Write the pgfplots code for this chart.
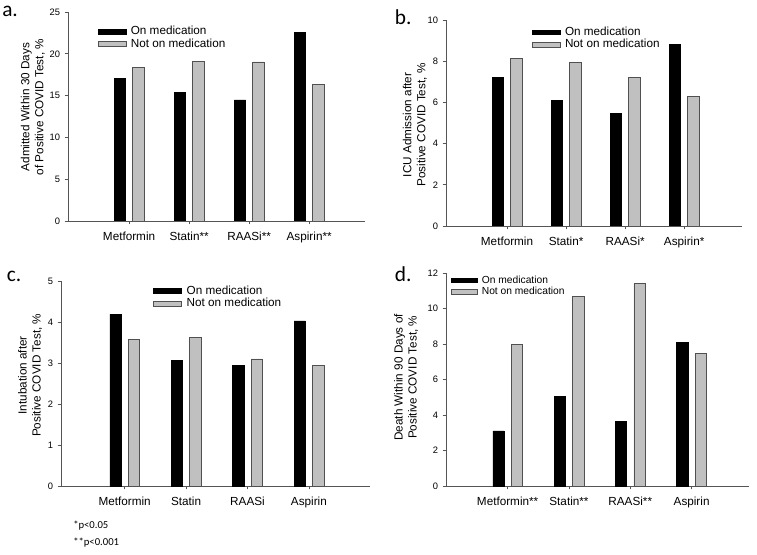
\documentclass[border=0pt]{standalone}
\usepackage{pgfplots}
\pgfplotsset{compat=1.18}
\usepackage{fontspec}
\setmainfont{Liberation Sans}
\newfontfamily\calib{Carlito}
\definecolor{bargray}{RGB}{192,192,192}
\definecolor{edgegray}{RGB}{80,80,80}
\definecolor{axgray}{RGB}{85,85,85}
\pgfplotsset{
 panel/.style={
  scale only axis, anchor=south west,
  axis lines=left, axis line style={-, axgray, line width=0.6pt},
  ybar, bar width=8.5pt,
  ymin=0, xtick={1,2,3,4},
  tick align=outside, major tick length=2.5pt,
  tick style={axgray, line width=0.6pt},
  yticklabel style={font=\fontsize{7}{8}\selectfont},
  xticklabel style={font=\fontsize{8.8}{10}\selectfont, yshift=-2pt},
  ylabel style={font=\fontsize{8.8}{10.5}\selectfont, align=center, anchor=center},
  /pgf/number format/assume math mode=true,
  legend style={draw=none, fill=none, font=\fontsize{8.8}{10.5}\selectfont, anchor=north west, row sep=-1.5pt, column sep=2pt, legend cell align=left, nodes={inner sep=1.5pt}},
  legend image code/.code={\draw[##1, line width=0.5pt] (0pt,-1.8pt) rectangle (21pt,1.8pt);},
 },
 onmed/.style={fill=black, draw=black, bar shift=-6.9pt},
 notmed/.style={fill=bargray, draw=edgegray, bar shift=6.9pt},
}
\begin{document}
\begin{tikzpicture}
\path[use as bounding box] (0,0) rectangle (567.75pt,415.5pt);
% panel a
\begin{axis}[panel, at={(51pt,249.75pt)}, width=222.75pt, height=156.75pt,
  xmin=-0.017, xmax=4.93, ymax=25, ytick={0,5,10,15,20,25},
  xticklabels={Metformin, Statin**, RAASi**, Aspirin**},
  ylabel={Admitted Within 30 Days\\of Positive COVID Test, \%},
  ylabel style={at={(axis description cs:-0.118,0.545)}},
  legend style={at={(axis description cs:0.085,0.955)}}]
\addplot[onmed] coordinates {(1,17.04) (2,15.4) (3,14.5) (4,22.6)};
\addplot[notmed] coordinates {(1,18.36) (2,19.1) (3,19.03) (4,16.3)};
\legend{On medication, Not on medication}
\end{axis}
% panel b
\begin{axis}[panel, at={(334.5pt,246pt)}, width=222pt, height=154.5pt,
  xmin=-0.034, xmax=4.98, ymax=10, ytick={0,2,4,6,8,10},
  xticklabels={Metformin, Statin*, RAASi*, Aspirin*},
  ylabel={ICU Admission after\\Positive COVID Test, \%},
  ylabel style={at={(axis description cs:-0.105,0.49)}},
  legend style={at={(axis description cs:0.275,0.99)}}]
\addplot[onmed] coordinates {(1,7.2) (2,6.09) (3,5.46) (4,8.82)};
\addplot[notmed] coordinates {(1,8.12) (2,7.96) (3,7.21) (4,6.29)};
\legend{On medication, Not on medication}
\end{axis}
% panel c
\begin{axis}[panel, at={(45.75pt,51pt)}, width=231.75pt, height=153.75pt,
  xmin=-0.037, xmax=4.995, ymax=5, ytick={0,1,2,3,4,5},
  xticklabels={Metformin, Statin, RAASi, Aspirin},
  ylabel={Intubation after\\Positive COVID Test, \%},
  ylabel style={at={(axis description cs:-0.10,0.54)}},
  legend style={at={(axis description cs:0.285,1.0)}}]
\addplot[onmed] coordinates {(1,4.19) (2,3.07) (3,2.94) (4,4.03)};
\addplot[notmed] coordinates {(1,3.58) (2,3.63) (3,3.10) (4,2.95)};
\legend{On medication, Not on medication}
\end{axis}
% panel d
\begin{axis}[panel, at={(334.5pt,51pt)}, width=227.25pt, height=159.75pt,
  xmin=-0.005, xmax=4.936, ymax=12, ytick={0,2,4,6,8,10,12},
  xticklabels={Metformin**, Statin**, RAASi**, Aspirin},
  ylabel={Death Within 90 Days of\\Positive COVID Test, \%},
  ylabel style={at={(axis description cs:-0.132,0.51)}},
  legend style={at={(axis description cs:0.003,1.01)}, font=\fontsize{7.7}{9.5}\selectfont},
  legend image code/.code={\draw[#1, line width=0.5pt] (0pt,-1.6pt) rectangle (19pt,1.6pt);}]
\addplot[onmed] coordinates {(1,3.11) (2,5.07) (3,3.63) (4,8.09)};
\addplot[notmed] coordinates {(1,8.0) (2,10.69) (3,11.42) (4,7.45)};
\legend{On medication, Not on medication}
\end{axis}
\node[font=\calib\fontsize{16}{16}\selectfont, anchor=base west, inner sep=0pt] at (1.5pt,402.75pt) {a.};
\node[font=\calib\fontsize{16}{16}\selectfont, anchor=base west, inner sep=0pt] at (296pt,396.75pt) {b.};
\node[font=\calib\fontsize{16}{16}\selectfont, anchor=base west, inner sep=0pt] at (5pt,204pt) {c.};
\node[font=\calib\fontsize{16}{16}\selectfont, anchor=base west, inner sep=0pt] at (296pt,204pt) {d.};
\node[font=\calib\fontsize{8}{9}\selectfont, anchor=base west, inner sep=0pt] at (54.75pt,19.5pt) {*p<0.05};
\node[font=\calib\fontsize{8}{9}\selectfont, anchor=base west, inner sep=0pt] at (54.75pt,6.75pt) {**p<0.001};
\end{tikzpicture}
\end{document}
